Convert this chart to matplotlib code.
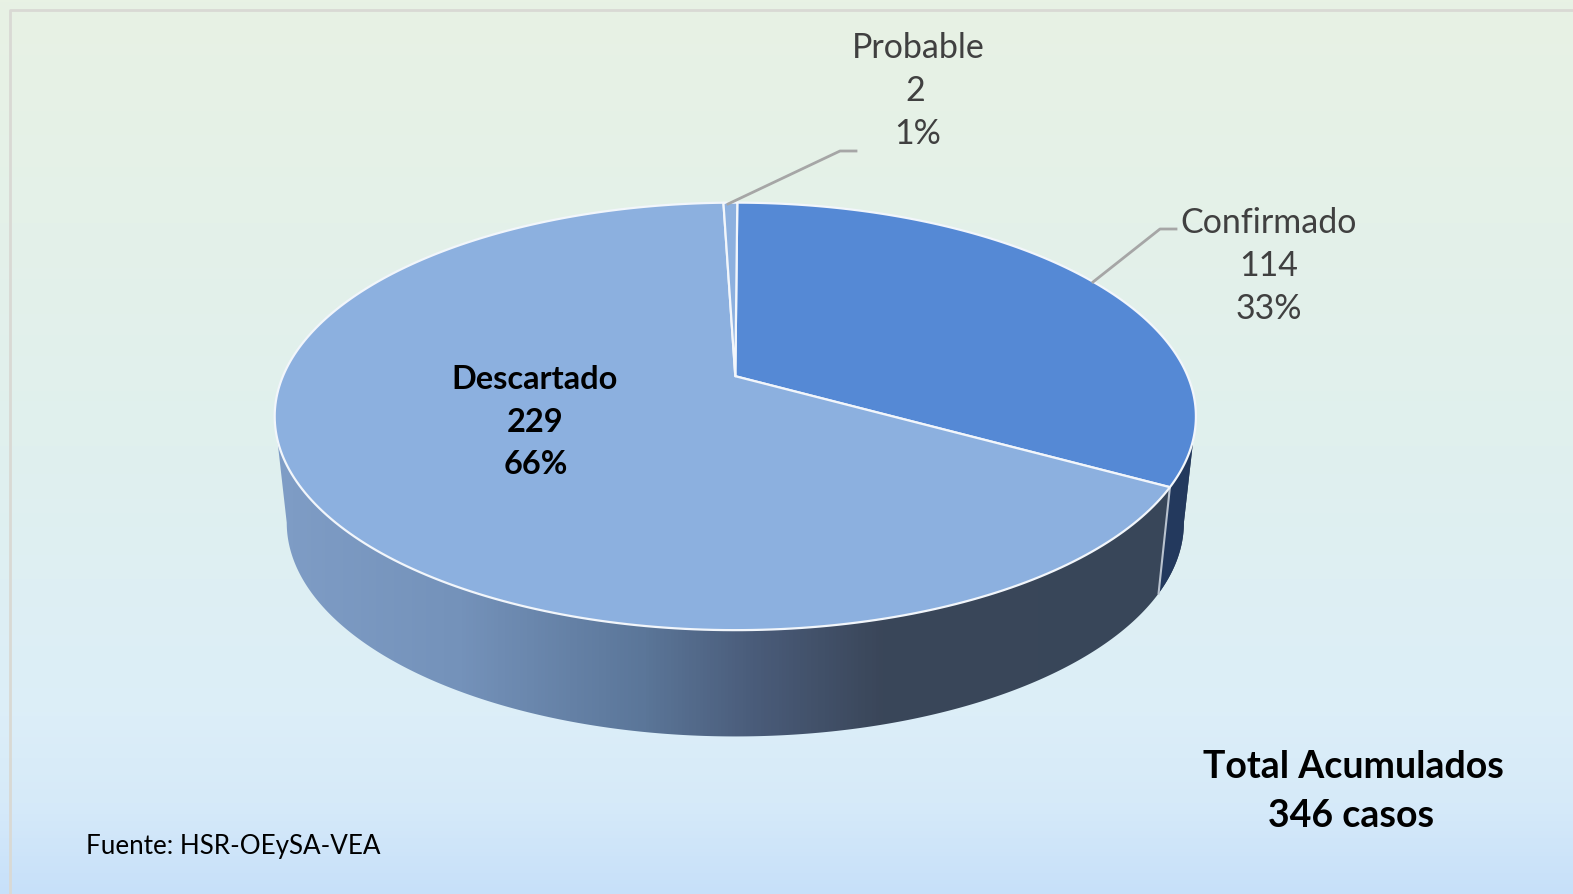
import numpy as np
import matplotlib
matplotlib.use("Agg")
import matplotlib.pyplot as plt
from matplotlib.colors import LinearSegmentedColormap
from matplotlib.patches import Polygon

categories = ["Confirmado", "Descartado", "Probable"]
values = [114, 229, 2]
percents = ["33%", "66%", "1%"]
total_text = ["Total Acumulados", "346 casos"]
source_text = "Fuente: HSR-OEySA-VEA"

W, H = 1573, 895
plt.rcParams["font.family"] = ["Lato", "DejaVu Sans"]
fig = plt.figure(figsize=(W / 100, H / 100), dpi=100)
ax = fig.add_axes([0, 0, 1, 1])
ax.set_xlim(0, W)
ax.set_ylim(H, 0)
ax.axis("off")

# background
bg = LinearSegmentedColormap.from_list(
    "bg", [(0, "#e8f2e4"), (0.5, "#e0f0ee"), (0.8, "#dceef8"), (0.9, "#d6eaf9"), (1, "#c7e0fa")])
ax.imshow(np.linspace(0, 1, 256)[:, None], cmap=bg, extent=[0, W, H, 0], aspect="auto", zorder=0)
ax.plot([9.5, 9.5, W], [H, 10.5, 10.5], color="#d9d9d4", lw=2, zorder=1)

# projection of the pie disc
CX, APEX, K = 735.3, 377.2, 0.188
A, B = 452.4, 206.2


def project(theta, r=1.0, a=A, y0=APEX):
    u, v = r * np.sin(theta), r * np.cos(theta)
    w = 1 + K * v
    return np.column_stack([CX + a * u / w, y0 - B * v / w])


DEPTH = 106.3
A_BOT = A * 447 / 459
START = np.radians(0.3)
edges = START + np.concatenate([[0], np.cumsum(values)]) / np.sum(values) * 2 * np.pi

EXT = np.arcsin(K)
t_side = np.linspace(np.pi / 2 + EXT, 3 * np.pi / 2 - EXT, 300)
top_rim = project(t_side)
bot_rim = project(t_side, a=A_BOT, y0=APEX + DEPTH)
side_poly = np.vstack([top_rim, bot_rim[::-1]])

side = LinearSegmentedColormap.from_list(
    "side", [(0, "#7f9dc6"), (0.2, "#7492ba"), (0.4, "#5b7699"), (0.52, "#4a5c7a"),
             (0.66, "#3a4659"), (1, "#38475a")])
patch = Polygon(side_poly, closed=True, fc="none", ec="none", zorder=2)
ax.add_patch(patch)
im = ax.imshow(np.linspace(0, 1, 256)[None, :], cmap=side,
               extent=[275, 1196, 760, 400], aspect="auto", zorder=2)
im.set_clip_path(patch)
ax.set_xlim(0, W)
ax.set_ylim(H, 0)

# front face of the first slice
t_conf = np.linspace(np.pi / 2 + EXT, edges[1], 60)
conf_side = np.vstack([project(t_conf), project(t_conf, a=A_BOT, y0=APEX + DEPTH)[::-1]])
ax.add_patch(Polygon(conf_side, closed=True, fc="#23395d", ec="none", zorder=3))
seam = np.vstack([project(edges[1:2]), project(edges[1:2], a=A_BOT, y0=APEX + DEPTH)])
ax.plot(seam[:, 0], seam[:, 1], color="#b9c3cf", lw=1.5, zorder=4)

# top slices
colors = ["#5589d5", "#8cb0df", "#8cb0df"]
for i, col in enumerate(colors):
    t = np.linspace(edges[i], edges[i + 1], 240)
    poly = np.vstack([[[CX, APEX]], project(t)])
    ax.add_patch(Polygon(poly, closed=True, fc=col, ec="#f2f6fb", lw=1.6, joinstyle="round", zorder=5))

# leader lines
grey = "#a6a6a6"
ax.plot([1093, 1160, 1176], [283, 230, 230], color=grey, lw=2, zorder=6)
ax.plot([728, 840, 856], [205, 152, 152], color=grey, lw=2, zorder=6)


def label(xs, ys, lines, **kw):
    for x, y, s in zip(xs, ys, lines):
        ax.text(x, y, s, ha="center", va="center", zorder=7, **kw)


lab = dict(color="#404040", fontsize=24.5)
label([1269, 1269, 1269], [222.5, 266, 309], [categories[0], str(values[0]), percents[0]], **lab)
label([918, 915, 918], [48, 91, 134], [categories[2], str(values[2]), percents[2]], **lab)
label([535, 535, 536], [379, 422, 465], [categories[1], str(values[1]), percents[1]],
      color="black", fontsize=23.4, fontweight="bold")
label([1353, 1351], [767, 816], total_text, color="black", fontsize=27, fontweight="bold")
ax.text(86, 847, source_text, ha="left", va="center", color="black", fontsize=18.7, zorder=7)

fig.savefig("out.png", dpi=100)
